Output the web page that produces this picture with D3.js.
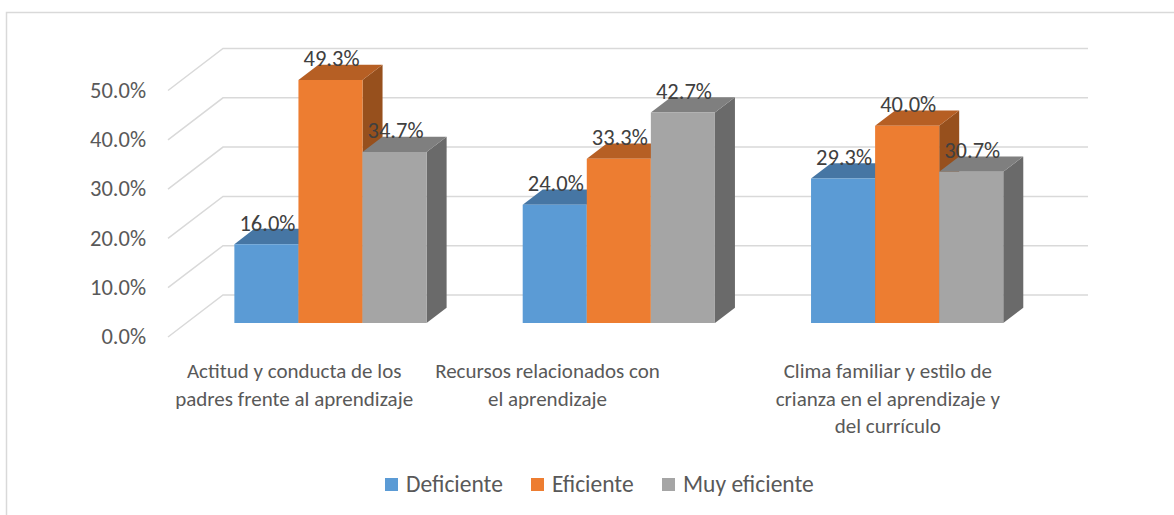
<!DOCTYPE html>
<html>
<head>
<meta charset="utf-8">
<script src="https://cdn.jsdelivr.net/npm/d3@7"></script>
<style>
  html, body { margin: 0; padding: 0; background: #fff; }
  svg { display: block; }
  text { font-family: Carlito, Calibri, Lato, sans-serif; }
</style>
</head>
<body>
<svg id="chart" width="1174" height="515"></svg>
<script>
// ---- data ----
const categories = [
  "Actitud y conducta de los padres frente al aprendizaje",
  "Recursos relacionados con el aprendizaje",
  "Clima familiar y estilo de crianza en el aprendizaje y del currículo"
];
const categoryLines = [
  ["Actitud y conducta de los", "padres frente al aprendizaje"],
  ["Recursos relacionados con", "el aprendizaje"],
  ["Clima familiar y estilo de", "crianza en el aprendizaje y", "del currículo"]
];
const seriesNames = ["Deficiente", "Eficiente", "Muy eficiente"];
const deficiente   = [16.0, 24.0, 29.3];
const eficiente    = [49.3, 33.3, 40.0];
const muyEficiente = [34.7, 42.7, 30.7];
const yTicks = [0, 10, 20, 30, 40, 50];
const yTickLabels = ["0.0%", "10.0%", "20.0%", "30.0%", "40.0%", "50.0%"];

const seriesValues = [deficiente, eficiente, muyEficiente];

// ---- layout / style ----
const colors = {
  front: ["#5B9BD5", "#ED7D31", "#A5A5A5"],
  top:   ["#4676A4", "#B65F24", "#7F7F7F"],
  side:  ["#3F6A93", "#97501D", "#6A6A6A"]
};
const origin = { x: 168, y: 337 };     // front-left floor corner
const depth = { dx: 55, dy: -42 };     // full depth vector of the box
const plotW = 865;
const barF0 = 0.333, barF1 = 0.697;    // bar depth fractions
const catLabelShift = [-18, -53, -1];

const svg = d3.select("#chart");

const x0 = d3.scaleBand().domain(d3.range(categories.length))
  .range([0, plotW]).paddingInner(1/3).paddingOuter(1/6);
const x1 = d3.scaleBand().domain(d3.range(seriesNames.length))
  .range([0, x0.bandwidth()]).padding(0);
const y = d3.scaleLinear().domain([0, 50]).range([0, 246.5]);

function proj(u, h, f) {
  return [origin.x + u + f * depth.dx, origin.y - h + f * depth.dy];
}
const poly = pts => "M" + pts.map(p => p.join(",")).join("L") + "Z";

// border
svg.append("rect").attr("x", 6.5).attr("y", 12.5)
  .attr("width", 1300).attr("height", 600)
  .attr("fill", "none").attr("stroke", "#d9d9d9").attr("stroke-width", 1.5);

// gridlines
const grid = svg.append("g").attr("stroke", "#d9d9d9").attr("stroke-width", 1.5).attr("fill", "none");
yTicks.forEach(t => {
  const a = proj(0, y(t), 0), b = proj(0, y(t), 1), c = proj(plotW, y(t), 1);
  grid.append("path").attr("d", `M${a}L${b}L${c}`);
});

// y tick labels
svg.append("g").selectAll("text").data(yTicks).join("text")
  .attr("x", 146).attr("y", d => proj(0, y(d), 0)[1] + 2)
  .attr("text-anchor", "end").attr("dominant-baseline", "middle")
  .attr("fill", "#595959").attr("font-size", 22.5)
  .text((d, i) => yTickLabels[i]);

// bars
const bars = svg.append("g");
categories.forEach((c, ci) => {
  seriesNames.forEach((s, si) => {
    const v = seriesValues[si][ci];
    const uL = x0(ci) + x1(si), uR = uL + x1.bandwidth();
    const h = y(v);
    const g = bars.append("g");
    g.append("path").attr("d", poly([proj(uR, 0, barF0), proj(uR, 0, barF1), proj(uR, h, barF1), proj(uR, h, barF0)]))
      .attr("fill", colors.side[si]);
    g.append("path").attr("d", poly([proj(uL, h, barF0), proj(uR, h, barF0), proj(uR, h, barF1), proj(uL, h, barF1)]))
      .attr("fill", colors.top[si]);
    g.append("path").attr("d", poly([proj(uL, 0, barF0), proj(uR, 0, barF0), proj(uR, h, barF0), proj(uL, h, barF0)]))
      .attr("fill", colors.front[si]);
  });
});

// data labels
const labels = svg.append("g");
categories.forEach((c, ci) => {
  seriesNames.forEach((s, si) => {
    const v = seriesValues[si][ci];
    const uC = x0(ci) + x1(si) + x1.bandwidth() / 2;
    const p = proj(uC, y(v), barF0);
    labels.append("text").attr("x", p[0] + 1).attr("y", p[1] - 13.5)
      .attr("text-anchor", "middle").attr("fill", "#404040").attr("font-size", 22.5)
      .text(v.toFixed(1) + "%");
  });
});

// category labels
const cat = svg.append("g");
categoryLines.forEach((lines, ci) => {
  const cx = proj(x0(ci) + x0.bandwidth() / 2, 0, 0)[0] + catLabelShift[ci];
  lines.forEach((ln, li) => {
    cat.append("text").attr("x", cx).attr("y", 378 + li * 27.5)
      .attr("text-anchor", "middle").attr("fill", "#595959").attr("font-size", 21)
      .text(ln);
  });
});

// legend
const legendX = [385, 531, 662];
const lg = svg.append("g");
seriesNames.forEach((s, si) => {
  lg.append("rect").attr("x", legendX[si]).attr("y", 478).attr("width", 13).attr("height", 13)
    .attr("fill", colors.front[si]);
  lg.append("text").attr("x", legendX[si] + 21).attr("y", 492)
    .attr("fill", "#595959").attr("font-size", 23.5).text(s);
});
</script>
</body>
</html>
